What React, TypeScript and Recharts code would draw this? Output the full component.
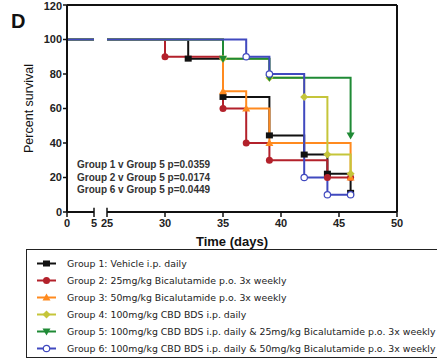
import { LineChart, Line, XAxis, YAxis, ReferenceLine, Label } from 'recharts'

// ─── Survival data (days, percent survival at each event) ─────────
const G1_DAYS = [32, 35, 39, 42, 44, 46]
const G1_SURV = [88.9, 66.7, 44.4, 33.3, 22.2, 11.1]
const G2_DAYS = [30, 35, 37, 39, 44, 46]
const G2_SURV = [90, 60, 40, 30, 20, 20]
const G3_DAYS = [35, 37, 39, 46]
const G3_SURV = [70, 60, 40, 20]
const G4_DAYS = [35, 39, 42, 44, 46]
const G4_SURV = [88.9, 77.8, 66.7, 33.3, 22.2]
const G5_DAYS = [35, 39, 46]
const G5_SURV = [88.9, 77.8, 44.4]
const G6_DAYS = [37, 39, 42, 44, 46]
const G6_SURV = [90, 80, 20, 10, 10]

const X_TICK_DAYS = [0, 5, 25, 30, 35, 40, 45, 50]
const Y_TICKS = [0, 20, 40, 60, 80, 100, 120]

const GROUP_NAMES = [
  'Group 1: Vehicle i.p. daily',
  'Group 2: 25mg/kg Bicalutamide p.o. 3x weekly',
  'Group 3: 50mg/kg Bicalutamide p.o. 3x weekly',
  'Group 4: 100mg/kg CBD BDS i.p. daily',
  'Group 5: 100mg/kg CBD BDS i.p. daily & 25mg/kg Bicalutamide p.o. 3x weekly',
  'Group 6: 100mg/kg CBD BDS i.p. daily & 50mg/kg Bicalutamide p.o. 3x weekly',
]
const P_VALUES = [
  'Group 1 v Group 5 p=0.0359',
  'Group 2 v Group 5 p=0.0174',
  'Group 6 v Group 5 p=0.0449',
]

const COLORS = ['#111111', '#b3212b', '#ff8a1f', '#c5c53a', '#1f8a35', '#4049bf']
const SHAPES = ['square', 'circle', 'triUp', 'diamond', 'triDown', 'openCircle']

// broken x axis: 0-5 squeezed, gap, then 25-50 at 1 unit per day
const U5 = 27 / 11.6
const U25 = 40 / 11.6
const toU = (t: number) => (t <= 5 ? (t / 5) * U5 : U25 + (t - 25))
const U_MAX = toU(50)

function buildSeries(days: number[], surv: number[]) {
  const pts: { u: number; v: number | null; mark: boolean }[] = [
    { u: 0, v: 100, mark: false },
    { u: U5, v: 100, mark: false },
    { u: (U5 + U25) / 2, v: null, mark: false },
    { u: U25, v: 100, mark: false },
  ]
  days.forEach((d, i) => pts.push({ u: toU(d), v: surv[i], mark: true }))
  return pts
}

const SERIES = [
  buildSeries(G1_DAYS, G1_SURV),
  buildSeries(G2_DAYS, G2_SURV),
  buildSeries(G3_DAYS, G3_SURV),
  buildSeries(G4_DAYS, G4_SURV),
  buildSeries(G5_DAYS, G5_SURV),
  buildSeries(G6_DAYS, G6_SURV),
]

function Marker({ shape, color, x, y }: { shape: string; color: string; x: number; y: number }) {
  switch (shape) {
    case 'square':
      return <rect x={x - 3.5} y={y - 3} width={7} height={6} fill={color} />
    case 'circle':
      return <circle cx={x} cy={y} r={3.5} fill={color} />
    case 'triUp':
      return <polygon points={`${x},${y - 4} ${x + 4},${y + 3} ${x - 4},${y + 3}`} fill={color} />
    case 'diamond':
      return <polygon points={`${x},${y - 4} ${x + 4},${y} ${x},${y + 4} ${x - 4},${y}`} fill={color} />
    case 'triDown':
      return <polygon points={`${x},${y + 4} ${x + 4},${y - 3} ${x - 4},${y - 3}`} fill={color} />
    default:
      return <circle cx={x} cy={y} r={3.2} fill="#fff" stroke={color} strokeWidth={1.2} />
  }
}

const dotFor = (i: number) => (props: any) => {
  const { cx, cy, payload, index } = props
  if (!payload || !payload.mark || cx == null || cy == null) return <g key={index} />
  return (
    <g key={index}>
      <Marker shape={SHAPES[i]} color={COLORS[i]} x={cx} y={cy} />
    </g>
  )
}

const tickFont = { fontSize: 11, fontWeight: 700, fill: '#222', fontFamily: 'Liberation Sans, Arial, sans-serif' }

export default function App() {
  const xTicks = X_TICK_DAYS.map(toU)
  return (
    <div style={{ position: 'absolute', left: 0, top: 0, width: 437, height: 362, overflow: 'hidden', background: '#fff', fontFamily: 'Liberation Sans, Arial, sans-serif' }}>
      <div style={{ position: 'absolute', left: 11, top: 10, fontSize: 20, fontWeight: 700, color: '#111' }}>D</div>

      <LineChart width={437} height={250} margin={{ top: 5, right: 40, left: 7, bottom: 8 }}>
        <XAxis
          type="number"
          dataKey="u"
          domain={[0, U_MAX]}
          ticks={xTicks}
          tickFormatter={(v: number) => String(X_TICK_DAYS[xTicks.findIndex((t) => Math.abs(t - v) < 0.01)] ?? '')}
          tick={tickFont}
          axisLine={false}
          tickLine={{ stroke: '#111', strokeWidth: 1.5 }}
          tickSize={5}
          tickMargin={2}
          interval={0}
          height={30}
        >
          <Label value="Time (days)" position="insideBottom" offset={-4} style={{ fontSize: 13, fontWeight: 700, fill: '#111' }} />
        </XAxis>
        <YAxis
          type="number"
          domain={[0, 120]}
          ticks={Y_TICKS}
          tick={tickFont}
          axisLine={{ stroke: '#111', strokeWidth: 2 }}
          tickLine={{ stroke: '#111', strokeWidth: 1.5 }}
          tickSize={4}
          tickMargin={1}
          width={60}
        >
          <Label value="Percent survival" angle={-90} position="insideLeft" offset={22} style={{ fontSize: 12.5, fill: '#111', textAnchor: 'middle' }} />
        </YAxis>

        {/* frame + broken x axis */}
        <ReferenceLine y={120} stroke="#111" strokeWidth={2} />
        <ReferenceLine x={U_MAX} stroke="#111" strokeWidth={2} />
        <ReferenceLine segment={[{ x: 0, y: 0 }, { x: U5, y: 0 }]} stroke="#111" strokeWidth={2} />
        <ReferenceLine segment={[{ x: U25, y: 0 }, { x: U_MAX, y: 0 }]} stroke="#111" strokeWidth={2} />
        <ReferenceLine segment={[{ x: U5, y: 0 }, { x: U5, y: 2.5 }]} stroke="#111" strokeWidth={1.5} />
        <ReferenceLine segment={[{ x: U25, y: 0 }, { x: U25, y: 2.5 }]} stroke="#111" strokeWidth={1.5} />

        {SERIES.map((data, i) => (
          <Line
            key={i}
            data={data}
            dataKey="v"
            type="stepAfter"
            stroke={COLORS[i]}
            strokeWidth={2}
            dot={dotFor(i)}
            activeDot={false}
            connectNulls={false}
            isAnimationActive={false}
          />
        ))}
      </LineChart>

      <div style={{ position: 'absolute', left: 77, top: 159, fontSize: 10, fontWeight: 700, color: '#333', lineHeight: '12.5px' }}>
        {P_VALUES.map((p) => (
          <div key={p}>{p}</div>
        ))}
      </div>

      <div style={{ position: 'absolute', left: 26, top: 249, width: 430, height: 109, border: '1.5px solid #222', boxSizing: 'border-box' }}>
        {GROUP_NAMES.map((name, i) => (
          <div key={name} style={{ position: 'absolute', left: 0, top: 5 + i * 16.9, height: 17, display: 'flex', alignItems: 'center' }}>
            <svg width={40} height={17} style={{ display: 'block' }}>
              <line x1={10} y1={8.5} x2={29} y2={8.5} stroke={COLORS[i]} strokeWidth={2} />
              <Marker shape={SHAPES[i]} color={COLORS[i]} x={19.5} y={8.5} />
            </svg>
            <span style={{ fontFamily: 'DejaVu Sans, Verdana, sans-serif', fontSize: 9.35, color: '#222', whiteSpace: 'nowrap' }}>{name}</span>
          </div>
        ))}
      </div>
    </div>
  )
}
